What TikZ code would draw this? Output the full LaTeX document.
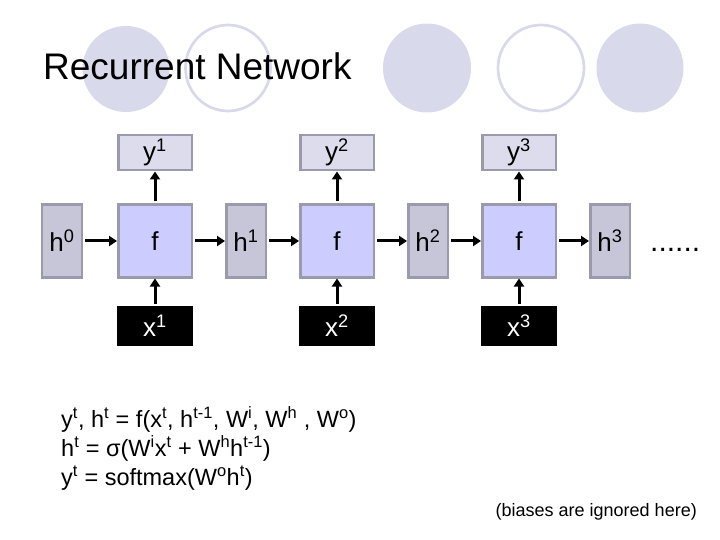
\documentclass[tikz,border=0pt]{standalone}
\usepackage{fontspec}
\setmainfont{Liberation Sans}
\usetikzlibrary{positioning,arrows.meta}

\definecolor{blobfill}{HTML}{D9D9EC}
\definecolor{cellfill}{HTML}{CCCCFF}
\definecolor{outfill}{HTML}{DCDCEC}
\definecolor{hidfill}{HTML}{C6C6D8}
\definecolor{rimgray}{HTML}{9A9AAC}

\begin{document}
\begin{tikzpicture}[
  x=1bp, y=-1bp, node distance=32bp and 32bp,
  every node/.style={font=\fontsize{26bp}{30bp}\selectfont, inner sep=0pt},
  cell/.style={draw=rimgray, line width=2.5bp, fill=cellfill, minimum width=73.5bp, minimum height=72.5bp},
  hid/.style={draw=rimgray, line width=2.5bp, fill=hidfill, minimum width=39.5bp, minimum height=73bp},
  outbox/.style={draw=rimgray, line width=2.5bp, fill=outfill, minimum width=73.5bp, minimum height=35bp},
  inbox/.style={fill=black, text=white, minimum width=76bp, minimum height=40bp},
  flow/.style={-{Triangle[length=8bp,width=10bp]}, line width=3bp, shorten <=2bp},
  blob/.style={fill=blobfill},
  ring/.style={draw=blobfill, line width=2.7bp},
  eq/.style={anchor=base west, font=\fontsize{23.5bp}{28bp}\selectfont}
]
  \useasboundingbox (0,0) rectangle (720,540);

  % decoration behind the title
  \fill[blob] (126,69) ellipse [x radius=43.5bp, y radius=43bp];
  \draw[ring] (228,68) ellipse [x radius=42.5bp, y radius=43bp];
  \fill[blob] (427,68) ellipse [x radius=44bp, y radius=44.5bp];
  \draw[ring] (541,68) ellipse [x radius=43bp, y radius=43bp];
  \fill[blob] (640,68) ellipse [x radius=43.5bp, y radius=44.5bp];

  \node[anchor=base west, font=\fontsize{37bp}{40bp}\selectfont] (title) at (43,80) {Recurrent Network};

  % unrolled network
  \node[cell] (f-1) at (155,241) {f};
  \node[hid, left=34bp of f-1] (h-0) {h\textsuperscript{0}};
  \node[hid, right=of f-1] (h-1) {h\textsuperscript{1}};
  \node[cell, right=of h-1] (f-2) {f};
  \node[hid, right=of f-2] (h-2) {h\textsuperscript{2}};
  \node[cell, right=of h-2] (f-3) {f};
  \node[hid, right=of f-3] (h-3) {h\textsuperscript{3}};
  \node[right=19bp of h-3, yshift=-9bp, font=\fontsize{30bp}{30bp}\selectfont] (dots) {......};

  \foreach \i in {1,2,3} {
    \node[outbox, above=of f-\i] (y-\i) {y\textsuperscript{\i}};
    \node[inbox, below=27bp of f-\i] (x-\i) {x\textsuperscript{\i}};
    \draw[flow] (x-\i) -- (f-\i);
    \draw[flow] (f-\i) -- (y-\i);
  }
  \foreach \a/\b in {h-0/f-1, f-1/h-1, h-1/f-2, f-2/h-2, h-2/f-3, f-3/h-3}
    \draw[flow] (\a) -- (\b);

  % equations
  \node[eq] (eq-1) at (61,427) {y\textsuperscript{t}, h\textsuperscript{t} = f(x\textsuperscript{t}, h\textsuperscript{t-1}, W\textsuperscript{i}, W\textsuperscript{h} , W\textsuperscript{o})};
  \node[eq] (eq-2) at (61,456) {h\textsuperscript{t} = σ(W\textsuperscript{i}x\textsuperscript{t} + W\textsuperscript{h}h\textsuperscript{t-1})};
  \node[eq] (eq-3) at (61,485) {y\textsuperscript{t} = softmax(W\textsuperscript{o}h\textsuperscript{t})};

  \node[anchor=east, font=\fontsize{18bp}{20bp}\selectfont] (note) at (697,512) {(biases are ignored here)};
\end{tikzpicture}
\end{document}
